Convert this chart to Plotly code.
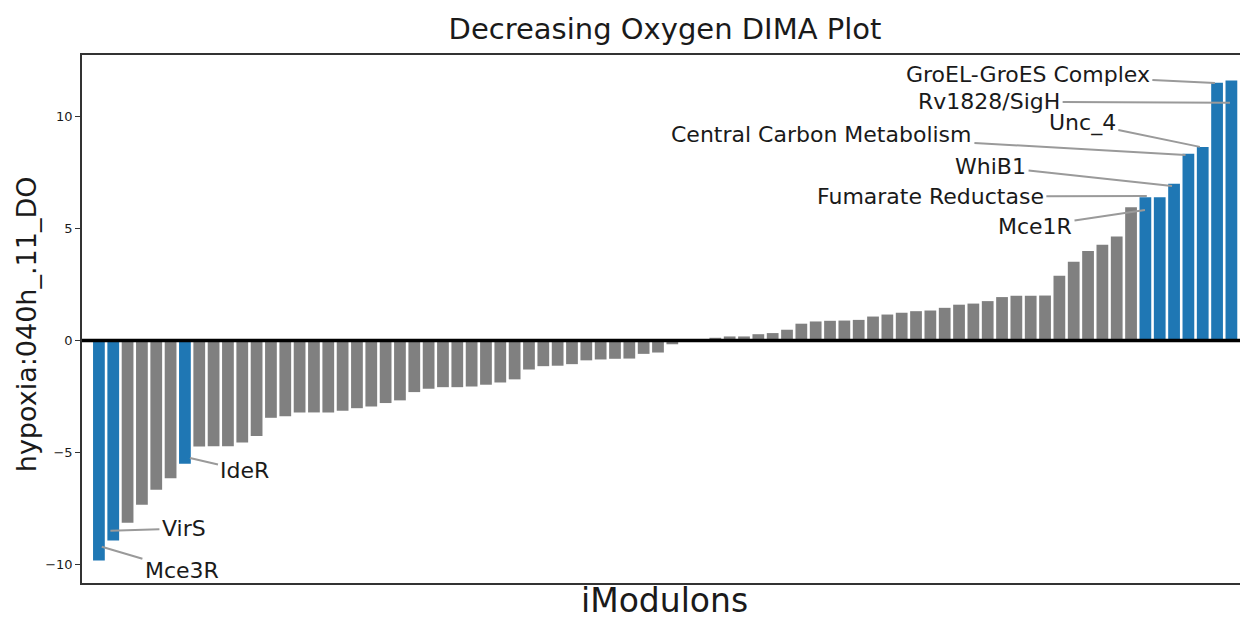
import plotly.graph_objects as go

# DIMA activity difference per iModulon, sorted ascending
activity = [
    -9.84, -8.95, -8.16, -7.35, -6.68, -6.16, -5.52, -4.74, -4.73, -4.73,
    -4.56, -4.27, -3.46, -3.39, -3.22, -3.22, -3.22, -3.15, -3.03, -2.95,
    -2.80, -2.68, -2.31, -2.16, -2.09, -2.09, -2.06, -1.98, -1.88, -1.74,
    -1.30, -1.15, -1.13, -1.06, -0.89, -0.85, -0.82, -0.81, -0.60, -0.54,
    -0.17, 0.01, 0.04, 0.12, 0.18, 0.18, 0.28, 0.33, 0.48, 0.75,
    0.85, 0.88, 0.89, 0.92, 1.07, 1.16, 1.24, 1.31, 1.34, 1.46,
    1.60, 1.65, 1.76, 1.94, 2.00, 2.00, 2.01, 2.89, 3.52, 4.00,
    4.28, 4.65, 5.96, 6.41, 6.41, 7.01, 8.35, 8.65, 11.53, 11.63,
]
positions = list(range(len(activity)))

# significant iModulons (highlighted and labelled)
label_names = [
    "Mce3R", "VirS", "IdeR", "Mce1R", "Fumarate Reductase", "WhiB1",
    "Central Carbon Metabolism", "Unc_4", "GroEL-GroES Complex", "Rv1828/SigH",
]
label_index = [0, 1, 6, 74, 73, 75, 76, 77, 78, 79]

# label placement (text centre and leader-line end, data units)
text_x = [5.79, 5.93, 10.19, 65.3, 58.0, 62.2, 50.4, 68.6, 64.8, 62.1]
text_y = [-10.29, -8.41, -5.82, 5.10, 6.44, 7.79, 9.22, 9.75, 11.9, 10.69]
tip_x = [0.2, 0.8, 6.35, 72.97, 73.1, 74.86, 75.8, 76.8, 77.85, 78.9]
tip_y = [-9.23, -8.51, -5.26, 5.84, 6.46, 6.91, 8.30, 8.66, 11.52, 10.63]

BLUE = "#1f77b4"
GREY = "#808080"
FONT = "DejaVu Sans"
TEXT = "#1a1a1a"

colors = [BLUE if i in label_index else GREY for i in positions]

fig = go.Figure(
    go.Bar(
        x=positions,
        y=activity,
        marker=dict(color=colors, line=dict(width=0)),
        width=0.82,
        hoverinfo="skip",
    )
)

annotations = []
for name, tx, ty, px, py in zip(label_names, text_x, text_y, tip_x, tip_y):
    annotations.append(dict(
        text=name, x=px, y=py, xref="x", yref="y",
        ax=tx, ay=ty, axref="x", ayref="y",
        showarrow=True, arrowhead=0, arrowwidth=2, arrowcolor="#9a9a9a",
        font=dict(family=FONT, size=22, color=TEXT),
        borderpad=2,
    ))

# axis titles
annotations.append(dict(
    text="iModulons", xref="paper", yref="paper", x=0.503, y=-0.032,
    xanchor="center", yanchor="middle", showarrow=False,
    height=34, valign="middle",
    font=dict(family=FONT, size=33, color=TEXT),
))
annotations.append(dict(
    text="hypoxia:040h_.11_DO", xref="paper", yref="paper", x=-0.0484, y=0.49,
    xanchor="center", yanchor="middle", showarrow=False, textangle=-90,
    font=dict(family=FONT, size=27, color=TEXT),
))

fig.update_layout(
    width=1240,
    height=618,
    autosize=False,
    margin=dict(l=82, r=0, t=55, b=35),
    paper_bgcolor="white",
    plot_bgcolor="white",
    showlegend=False,
    title=dict(
        text="Decreasing Oxygen DIMA Plot",
        x=665 / 1240, xref="container", xanchor="center",
        y=1 - 29 / 618, yref="container", yanchor="middle",
        font=dict(family=FONT, size=29, color=TEXT),
    ),
    xaxis=dict(
        range=[-1.18, 79.6],
        showticklabels=False,
        ticks="",
        showgrid=False,
        zeroline=False,
        showline=True,
        mirror=True,
        linecolor="#333333",
        linewidth=1.5,
    ),
    yaxis=dict(
        range=[-10.85, 12.77],
        tickvals=[-10, -5, 0, 5, 10],
        ticks="outside",
        ticklen=5,
        tickwidth=1.2,
        tickcolor="#333333",
        tickfont=dict(family=FONT, size=13, color=TEXT),
        showgrid=False,
        zeroline=False,
        showline=True,
        mirror=False,
        linecolor="#333333",
        linewidth=1.5,
    ),
    shapes=[dict(
        type="line", xref="paper", x0=0, x1=1, yref="y", y0=0, y1=0,
        line=dict(color="black", width=3.5), layer="above",
    )],
    annotations=annotations,
)

fig.write_html("out.html")
